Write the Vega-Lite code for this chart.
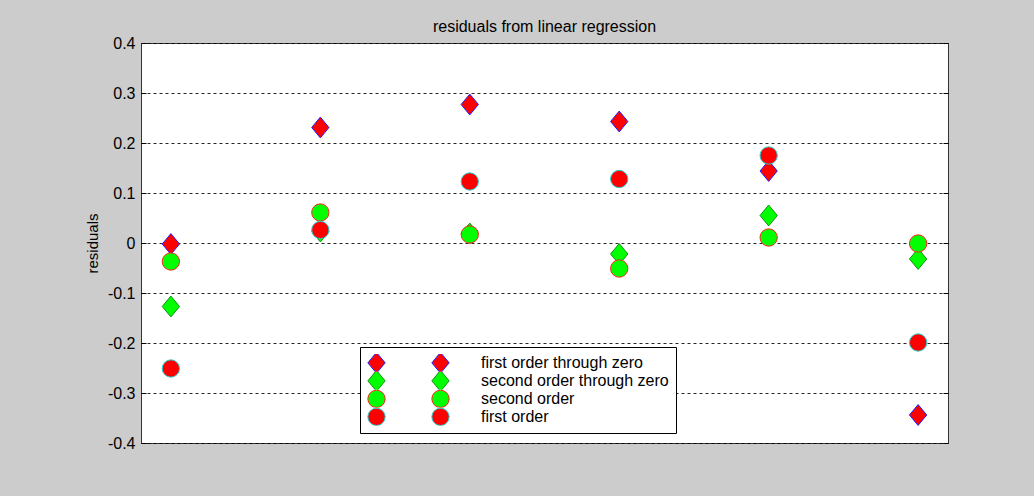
{
  "$schema": "https://vega.github.io/schema/vega-lite/v6.json",
  "autosize": "none",
  "width": 807,
  "height": 400,
  "padding": {"left": 141, "top": 43, "right": 86, "bottom": 53},
  "background": "#cccccc",
  "config": {
    "view": {"fill": "white", "stroke": "#333333", "strokeWidth": 1},
    "font": "Liberation Sans"
  },
  "title": {
    "text": "residuals from linear regression",
    "font": "Liberation Sans",
    "fontSize": 16,
    "fontWeight": "normal",
    "color": "#000000",
    "anchor": "middle",
    "baseline": "alphabetic",
    "offset": -13
  },
  "data": {
    "values": [
      {"g": 1, "series": "first order through zero", "r": -0.002},
      {"g": 2, "series": "first order through zero", "r": 0.231},
      {"g": 3, "series": "first order through zero", "r": 0.277},
      {"g": 4, "series": "first order through zero", "r": 0.243},
      {"g": 5, "series": "first order through zero", "r": 0.144},
      {"g": 6, "series": "first order through zero", "r": -0.344},
      {"g": 1, "series": "second order through zero", "r": -0.127},
      {"g": 2, "series": "second order through zero", "r": 0.023},
      {"g": 3, "series": "second order through zero", "r": 0.019},
      {"g": 4, "series": "second order through zero", "r": -0.022},
      {"g": 5, "series": "second order through zero", "r": 0.055},
      {"g": 6, "series": "second order through zero", "r": -0.032},
      {"g": 1, "series": "second order", "r": -0.037},
      {"g": 2, "series": "second order", "r": 0.061},
      {"g": 3, "series": "second order", "r": 0.017},
      {"g": 4, "series": "second order", "r": -0.051},
      {"g": 5, "series": "second order", "r": 0.011},
      {"g": 6, "series": "second order", "r": -0.001},
      {"g": 1, "series": "first order", "r": -0.251},
      {"g": 2, "series": "first order", "r": 0.026},
      {"g": 3, "series": "first order", "r": 0.123},
      {"g": 4, "series": "first order", "r": 0.128},
      {"g": 5, "series": "first order", "r": 0.175},
      {"g": 6, "series": "first order", "r": -0.199}
    ]
  },
  "layer": [
    {
      "mark": {"type": "point", "filled": true, "opacity": 1, "size": 300, "strokeWidth": 1},
      "encoding": {
        "x": {"field": "g", "type": "quantitative", "scale": {"domain": [0.8, 6.2], "nice": false, "zero": false}, "axis": null},
        "y": {
          "field": "r", "type": "quantitative",
          "scale": {"domain": [-0.4, 0.4], "nice": false, "zero": false},
          "axis": {
            "orient": "left",
            "values": [-0.4, -0.3, -0.2, -0.1, 0, 0.1, 0.2, 0.3, 0.4],
            "labelExpr": "datum.value == 0 ? '0' : (datum.value < 0 ? '-' + format(-datum.value, '.1f') : format(datum.value, '.1f'))",
            "grid": true, "gridColor": "#000000", "gridDash": [3, 3], "gridWidth": 1, "gridOpacity": 0.85,
            "domain": false,
            "ticks": true, "tickSize": -5, "tickColor": "#000000", "tickWidth": 1,
            "labelPadding": 11,
            "labelFont": "Liberation Sans", "labelFontSize": 16, "labelColor": "#000000",
            "title": "residuals",
            "titleFont": "Liberation Sans", "titleFontSize": 15, "titleFontWeight": "normal", "titleColor": "#000000",
            "titlePadding": 7
          }
        },
        "fill": {
          "field": "series", "type": "nominal",
          "scale": {"domain": ["first order through zero", "second order through zero", "second order", "first order"], "range": ["#ff0000", "#00ff00", "#00ff00", "#ff0000"]},
          "legend": {
            "title": null, "orient": "none", "legendX": 219, "legendY": 304,
            "padding": 7, "strokeColor": "#000000", "fillColor": "#ffffff",
            "labelFont": "Liberation Sans", "labelFontSize": 16, "labelColor": "#000000",
            "labelOffset": 95, "rowPadding": 0, "clipHeight": 17.7, "symbolSize": 300, "symbolStrokeWidth": 1,
            "symbolOpacity": 1, "labelLimit": 400, "zindex": 1
          }
        },
        "stroke": {
          "field": "series", "type": "nominal",
          "scale": {"domain": ["first order through zero", "second order through zero", "second order", "first order"], "range": ["#2020ff", "#109010", "#ff2020", "#20d0d0"]}
        },
        "shape": {
          "field": "series", "type": "nominal",
          "scale": {"domain": ["first order through zero", "second order through zero", "second order", "first order"], "range": ["M0,-1.2L1,0L0,1.2L-1,0Z", "M0,-1.2L1,0L0,1.2L-1,0Z", "circle", "circle"]}
        }
      }
    },
    {
      "transform": [{"filter": "datum.g < 0"}],
      "mark": {"type": "point", "filled": true, "opacity": 1, "size": 300, "strokeWidth": 1},
      "encoding": {
        "x": {"field": "g", "type": "quantitative", "scale": {"domain": [0.8, 6.2], "nice": false, "zero": false}, "axis": null},
        "y": {
          "field": "r", "type": "quantitative",
          "scale": {"domain": [-0.4, 0.4], "nice": false, "zero": false},
          "axis": {
            "orient": "right",
            "values": [-0.4, -0.3, -0.2, -0.1, 0, 0.1, 0.2, 0.3, 0.4],
            "labels": false, "grid": false, "domain": false,
            "ticks": true, "tickSize": -5, "tickColor": "#000000", "tickWidth": 1,
            "title": null
          }
        },
        "fill": {
          "field": "series", "type": "nominal",
          "legend": {
            "title": null, "orient": "none", "legendX": 290, "legendY": 311,
            "padding": 0, "strokeColor": null, "fillColor": null,
            "labelExpr": "''", "labelFontSize": 16,
            "labelOffset": 95, "rowPadding": 0, "clipHeight": 17.7, "symbolSize": 300, "symbolStrokeWidth": 1,
            "symbolOpacity": 1, "zindex": 2
          }
        },
        "stroke": {"field": "series", "type": "nominal"},
        "shape": {"field": "series", "type": "nominal"}
      }
    }
  ],
  "resolve": {
    "scale": {"y": "independent"},
    "legend": {"fill": "independent", "stroke": "independent", "shape": "independent"}
  }
}
